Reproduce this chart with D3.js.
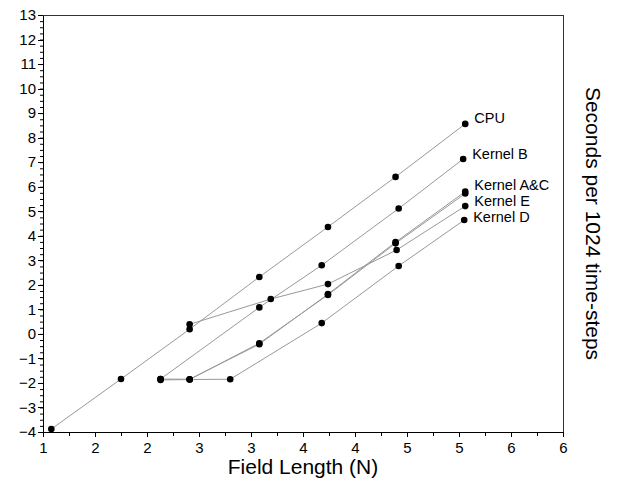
<!DOCTYPE html>
<html>
<head>
<meta charset="utf-8">
<script src="https://cdn.jsdelivr.net/npm/d3@7"></script>
<style>
  body { margin: 0; background: #fff; }
  svg { display: block; font-family: "Liberation Sans", Arial, sans-serif; }
</style>
</head>
<body>
<div id="chart"></div>
<script>
const W = 623, H = 479;
const MARGIN = { TOP: 15, RIGHT: 60, BOTTOM: 47, LEFT: 43 };

// series (x = field length, y = seconds per 1024 steps)
const seriesNames = ["CPU", "Kernel B", "Kernel A", "Kernel C", "Kernel E", "Kernel D"];
const cpuX = [1.08, 1.75, 2.41, 3.08, 3.74, 4.39, 5.06];
const cpuY = [-3.88, -1.84, 0.19, 2.32, 4.36, 6.40, 8.56];
const kernelBX = [2.13, 3.08, 3.68, 4.42, 5.04];
const kernelBY = [-1.84, 1.08, 2.80, 5.11, 7.13];
const kernelAX = [2.13, 2.41, 3.08, 3.74, 4.39, 5.06];
const kernelAY = [-1.88, -1.86, -0.38, 1.59, 3.69, 5.72];
const kernelCX = [2.13, 2.41, 3.08, 3.74, 4.39, 5.06];
const kernelCY = [-1.84, -1.85, -0.42, 1.62, 3.74, 5.80];
const kernelEX = [2.41, 3.19, 3.74, 4.40, 5.06];
const kernelEY = [0.39, 1.42, 2.03, 3.42, 5.21];
const kernelDX = [2.41, 2.80, 3.68, 4.42, 5.05];
const kernelDY = [-1.86, -1.85, 0.44, 2.77, 4.64];

const endLabels = ["CPU", "Kernel B", "Kernel A&C", "", "Kernel E", "Kernel D"];
const xTicks = [1, 1.5, 2, 2.5, 3, 3.5, 4, 4.5, 5, 5.5, 6];
const yTicks = [-4, -3, -2, -1, 0, 1, 2, 3, 4, 5, 6, 7, 8, 9, 10, 11, 12, 13];

const xs = [cpuX, kernelBX, kernelAX, kernelCX, kernelEX, kernelDX];
const ys = [cpuY, kernelBY, kernelAY, kernelCY, kernelEY, kernelDY];
const series = seriesNames.map((name, i) => ({
  name,
  label: endLabels[i],
  points: xs[i].map((x, j) => ({ x, y: ys[i][j] })),
}));

const x = d3.scaleLinear().domain([1, 6]).range([MARGIN.LEFT, W - MARGIN.RIGHT]);
const y = d3.scaleLinear().domain([-4, 13]).range([H - MARGIN.BOTTOM, MARGIN.TOP]);

const svg = d3.select("#chart").append("svg")
  .attr("width", W)
  .attr("height", H);

// frame on top and right
svg.append("path")
  .attr("d", `M${x(1)},${y(13)}H${x(6)}V${y(-4)}`)
  .attr("fill", "none")
  .attr("stroke", "#333")
  .attr("stroke-width", 1)
  .attr("shape-rendering", "crispEdges");

// minor ticks
svg.append("g")
  .attr("transform", `translate(0,${y(-4)})`)
  .call(d3.axisBottom(x).tickValues(d3.range(1, 6.001, 0.25)).tickSize(4).tickFormat(""))
  .call(g => g.select(".domain").remove());
svg.append("g")
  .attr("transform", `translate(${x(1)},0)`)
  .call(d3.axisLeft(y).tickValues(d3.range(-4, 13.001, 0.25)).tickSize(3).tickFormat(""))
  .call(g => g.select(".domain").remove());

const xAxis = svg.append("g")
  .attr("transform", `translate(0,${y(-4)})`)
  .call(d3.axisBottom(x).tickValues(xTicks).tickSize(5).tickSizeOuter(0).tickPadding(5)
    .tickFormat(d => Math.round(d)));
const yAxis = svg.append("g")
  .attr("transform", `translate(${x(1)},0)`)
  .call(d3.axisLeft(y).tickValues(yTicks).tickSize(5).tickSizeOuter(0).tickPadding(2));

[xAxis, yAxis].forEach(g => {
  g.selectAll("text").attr("font-size", 15).attr("fill", "#000")
    .attr("font-family", "'Liberation Sans', Arial, sans-serif");
  g.selectAll("line, path").attr("stroke", "#000").attr("shape-rendering", "crispEdges");
});

// series lines
const line = d3.line().x(d => x(d.x)).y(d => y(d.y));
svg.append("g").selectAll("path")
  .data(series)
  .join("path")
  .attr("d", d => line(d.points))
  .attr("fill", "none")
  .attr("stroke", "#999")
  .attr("stroke-width", 1);

// markers
svg.append("g").selectAll("circle")
  .data(series.flatMap(s => s.points))
  .join("circle")
  .attr("cx", d => x(d.x))
  .attr("cy", d => y(d.y))
  .attr("r", 3.3)
  .attr("fill", "#000");

// end labels, nudged so they don't collide
const nudge = { "CPU": -6, "Kernel B": -5, "Kernel A": -9, "Kernel E": -5, "Kernel D": -3 };
svg.append("g").selectAll("text")
  .data(series.filter(s => s.label))
  .join("text")
  .attr("x", d => x(d.points[d.points.length - 1].x) + 9)
  .attr("y", d => y(d.points[d.points.length - 1].y) + nudge[d.name])
  .attr("dy", "0.35em")
  .attr("font-size", 14.5)
  .text(d => d.label);

// axis titles
svg.append("text")
  .attr("x", (x(1) + x(6)) / 2)
  .attr("y", H - 5)
  .attr("text-anchor", "middle")
  .attr("font-size", 21)
  .text("Field Length (N)");

svg.append("text")
  .attr("transform", `translate(${W - 30},${(y(-4) + y(13)) / 2}) rotate(90)`)
  .attr("text-anchor", "middle")
  .attr("dy", "0.35em")
  .attr("font-size", 21)
  .text("Seconds per 1024 time-steps");
</script>
</body>
</html>
